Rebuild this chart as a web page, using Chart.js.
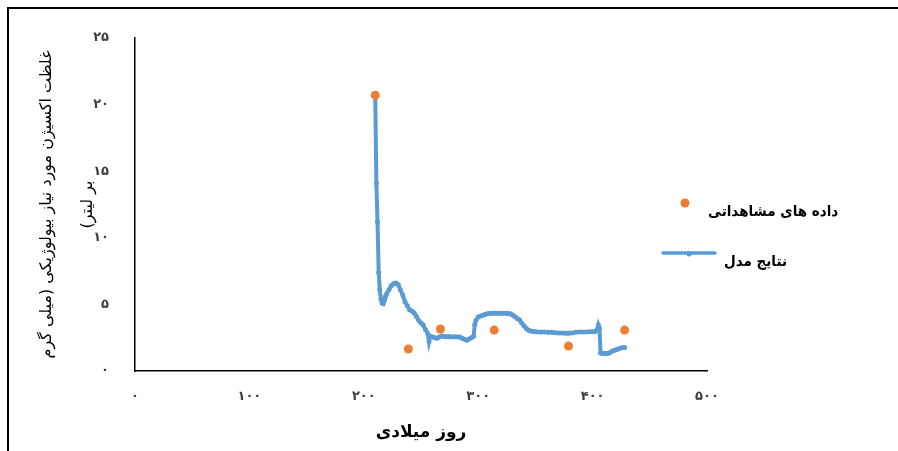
<!DOCTYPE html>
<html>
<head>
<meta charset="utf-8">
<script src="https://cdn.jsdelivr.net/npm/chart.js@4.4.1/dist/chart.umd.min.js"></script>
<style>
  html, body { margin: 0; padding: 0; background: #fff; }
  #wrap { width: 898px; height: 451px; position: relative; }
</style>
</head>
<body>
<div id="wrap"><canvas id="c" width="898" height="451" dir="rtl"></canvas></div>
<script>
// Observed BOD samples (day of year, mg/L)
const obsDays = [210, 239, 267, 314, 379, 428];
const obsValues = [20.7, 1.65, 3.15, 3.07, 1.87, 3.07];

// Model output (day of year, mg/L)
const modelDays = [
  210, 211, 212, 213, 214, 215, 216, 217, 218, 219, 220, 222, 224, 226, 228, 230,
  232, 234, 236, 238, 240, 242, 244, 246, 248, 250, 252, 254, 256, 257, 258, 260,
  262, 264, 266, 268, 270, 272, 274, 276, 278, 280, 282, 284, 286, 288, 290, 292,
  294, 296, 297, 298, 300, 302, 304, 306, 308, 310, 312, 314, 316, 318, 320, 322,
  324, 326, 328, 330, 332, 334, 336, 338, 340, 342, 344, 346, 348, 350, 352, 355,
  358, 361, 364, 367, 370, 373, 376, 379, 382, 385, 388, 391, 394, 397, 400, 402,
  404, 405, 406, 407, 408, 410, 412, 414, 416, 418, 420, 422, 424, 426, 428
];
const modelValues = [
  20.7, 14.1, 11.2, 7.4, 6.1, 5.4, 5.1, 5.05, 5.3, 5.6, 5.8, 6.1, 6.4, 6.55, 6.6, 6.5,
  6.1, 5.7, 5.2, 4.9, 4.6, 4.5, 4.35, 4.1, 3.8, 3.6, 3.45, 3.1, 2.8, 2.2, 2.6, 2.55,
  2.5, 2.45, 2.55, 2.62, 2.6, 2.58, 2.57, 2.57, 2.56, 2.57, 2.56, 2.55, 2.45, 2.38, 2.3, 2.4,
  2.5, 2.6, 3.5, 3.8, 4.05, 4.12, 4.18, 4.25, 4.3, 4.32, 4.33, 4.33, 4.33, 4.33, 4.33, 4.33,
  4.33, 4.32, 4.3, 4.2, 4.1, 3.95, 3.85, 3.6, 3.4, 3.2, 3.05, 3.0, 2.97, 2.95, 2.93, 2.92,
  2.92, 2.9, 2.9, 2.88, 2.86, 2.85, 2.84, 2.83, 2.86, 2.9, 2.92, 2.93, 2.93, 2.94, 2.94, 2.95,
  3.1, 3.45, 3.2, 1.35, 1.33, 1.32, 1.32, 1.33, 1.42, 1.52, 1.58, 1.64, 1.7, 1.74, 1.77
];

const xTicks = [0, 100, 200, 300, 400, 500];
const yTicks = [0, 5, 10, 15, 20, 25];
const seriesLabels = ['داده های مشاهداتی', 'نتایج مدل'];
const xTitle = 'روز میلادی';
const yTitle = ['غلظت اکسیژن مورد نیاز بیولوژیکی (میلی گرم', 'بر لیتر)'];

const faDigits = ['۰', '۱', '۲', '۳', '۴', '۵', '۶', '۷', '۸', '۹'];
const toFa = v => String(v).replace(/[0-9]/g, d => faDigits[+d]);

const ORANGE = '#ED7D31';
const BLUE = '#5B9BD5';
const FONT = '"DejaVu Sans", sans-serif';
const FONT_COND = '"DejaVu Sans Condensed", "DejaVu Sans", sans-serif';

// Outer frame plus a legend placed beside the plot
const framePlugin = {
  id: 'frame',
  beforeDraw(chart) {
    const ctx = chart.ctx;
    ctx.save();
    ctx.strokeStyle = '#000';
    ctx.lineWidth = 2;
    ctx.beginPath();
    ctx.moveTo(8, 451);
    ctx.lineTo(8, 8);
    ctx.lineTo(898, 8);
    ctx.stroke();
    ctx.restore();
  },
  afterDraw(chart) {
    const ctx = chart.ctx;
    const ds = chart.data.datasets;
    ctx.save();
    ctx.font = 'bold 15px ' + FONT_COND;
    ctx.fillStyle = '#000';
    ctx.textBaseline = 'middle';
    ctx.direction = 'rtl';
    ctx.textAlign = 'left';
    // observed entry
    ctx.beginPath();
    ctx.arc(685, 203, 4.5, 0, Math.PI * 2);
    ctx.fillStyle = ds[0].backgroundColor;
    ctx.fill();
    ctx.fillStyle = '#000';
    ctx.fillText(ds[0].label, 708, 212);
    // model entry
    ctx.strokeStyle = ds[1].borderColor;
    ctx.lineWidth = 3.5;
    ctx.lineCap = 'round';
    ctx.beginPath();
    ctx.moveTo(663, 253);
    ctx.lineTo(715, 253);
    ctx.stroke();
    ctx.beginPath();
    ctx.arc(689, 254, 2.5, 0, Math.PI * 2);
    ctx.fillStyle = ds[1].borderColor;
    ctx.fill();
    ctx.fillStyle = '#000';
    ctx.fillText(ds[1].label, 724, 262);
    ctx.restore();
  }
};

new Chart(document.getElementById('c'), {
  type: 'scatter',
  data: {
    datasets: [
      {
        label: seriesLabels[0],
        data: obsDays.map((d, i) => ({ x: d, y: obsValues[i] })),
        backgroundColor: ORANGE,
        borderColor: ORANGE,
        pointRadius: 4.5,
        pointBorderWidth: 0,
        showLine: false,
        order: 0
      },
      {
        label: seriesLabels[1],
        data: modelDays.map((d, i) => ({ x: d, y: modelValues[i] })),
        borderColor: BLUE,
        backgroundColor: BLUE,
        borderWidth: 4,
        pointRadius: 2.5,
        pointBorderWidth: 0,
        showLine: true,
        tension: 0,
        order: 1
      }
    ]
  },
  options: {
    responsive: false,
    animation: false,
    layout: { padding: { left: 26, right: 191, top: 38, bottom: 0 } },
    plugins: { legend: { display: false }, tooltip: { enabled: false } },
    scales: {
      x: {
        type: 'linear',
        min: 0, max: 500,
        afterBuildTicks: s => { s.ticks = xTicks.map(v => ({ value: v })); },
        afterFit: s => { s.height = 80; },
        grid: { display: false, drawTicks: false },
        border: { display: true, color: '#000', width: 1.5 },
        ticks: {
          callback: v => toFa(v),
          color: '#404040',
          font: { family: FONT, size: 13, weight: 'bold' },
          padding: 18,
          maxRotation: 0
        },
        title: {
          display: true,
          text: xTitle,
          color: '#000',
          font: { family: FONT, size: 17, weight: 'bold' },
          padding: { top: 0, bottom: 8 }
        }
      },
      y: {
        type: 'linear',
        min: 0, max: 25,
        afterBuildTicks: s => { s.ticks = yTicks.map(v => ({ value: v })); },
        afterFit: s => { s.width = 109; },
        grid: { display: false, drawTicks: false },
        border: { display: true, color: '#000', width: 1.5 },
        ticks: {
          callback: v => toFa(v),
          color: '#404040',
          font: { family: FONT, size: 13, weight: 'bold' },
          padding: 26
        },
        title: {
          display: true,
          text: yTitle,
          color: '#000',
          font: { family: FONT, size: 16, lineHeight: 2.56 },
          padding: 0
        }
      }
    }
  },
  plugins: [framePlugin]
});
</script>
</body>
</html>
